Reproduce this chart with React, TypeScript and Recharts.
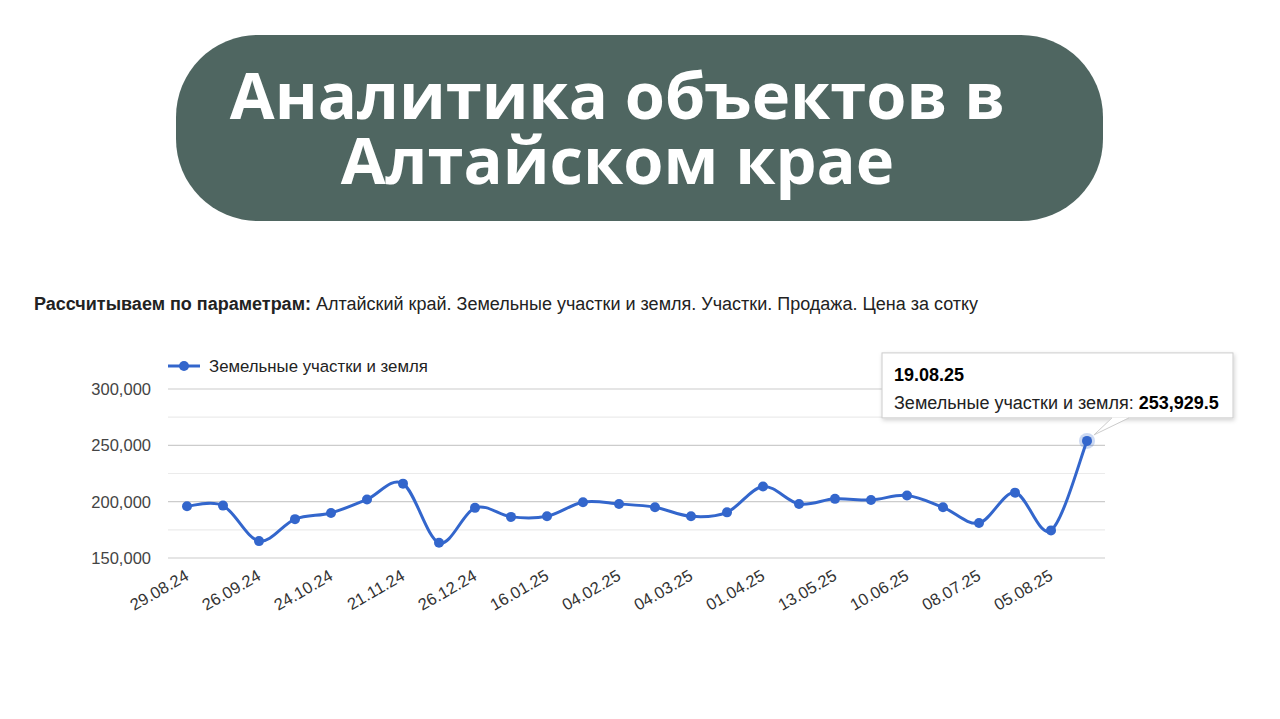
import React from "react";
import { LineChart, Line, XAxis, YAxis, CartesianGrid, ReferenceLine } from "recharts";

const dates = [
  "29.08.24", "12.09.24", "26.09.24", "10.10.24", "24.10.24", "07.11.24",
  "21.11.24", "05.12.24", "26.12.24", "09.01.25", "16.01.25", "23.01.25",
  "04.02.25", "18.02.25", "04.03.25", "18.03.25", "01.04.25", "15.04.25",
  "13.05.25", "27.05.25", "10.06.25", "24.06.25", "08.07.25", "22.07.25",
  "05.08.25", "19.08.25",
];

const prices = [
  196000, 196500, 165000, 184500, 190000, 202000, 216000, 163500, 194500,
  186500, 187000, 199500, 198000, 195000, 187000, 190500, 213500, 198000,
  202500, 201500, 205500, 195000, 181000, 208000, 174500, 253929.5,
];

const yTicks = [150000, 200000, 250000, 300000];
const minorTicks = [175000, 225000, 275000];

const seriesName = "Земельные участки и земля";

const data = dates.map((d, i) => ({ date: d, price: prices[i] }));

const BLUE = "#3366cc";
const FONT = "'Liberation Sans', Arial, sans-serif";

// cardinal-ish spline, close to google charts "function" curve
const smoothCurve = (context: any) => {
  let pts: number[][] = [];
  return {
    areaStart() {},
    areaEnd() {},
    lineStart() {
      pts = [];
    },
    point(x: number, y: number) {
      pts.push([x, y]);
    },
    lineEnd() {
      if (!pts.length) return;
      context.moveTo(pts[0][0], pts[0][1]);
      const k = 1 / 6;
      for (let i = 0; i < pts.length - 1; i++) {
        const p0 = pts[Math.max(i - 1, 0)];
        const p1 = pts[i];
        const p2 = pts[i + 1];
        const p3 = pts[Math.min(i + 2, pts.length - 1)];
        context.bezierCurveTo(
          p1[0] + (p2[0] - p0[0]) * k,
          p1[1] + (p2[1] - p0[1]) * k,
          p2[0] - (p3[0] - p1[0]) * k,
          p2[1] - (p3[1] - p1[1]) * k,
          p2[0],
          p2[1]
        );
      }
    },
  };
};

const XTick = (props: any) => {
  const { x, y, payload } = props;
  return (
    <g transform={`translate(${x + 3},${y + 21})`}>
      <text
        x={0}
        y={0}
        textAnchor="end"
        transform="rotate(-30)"
        fontSize={16.5}
        fontFamily={FONT}
        fill="#333"
      >
        {payload.value}
      </text>
    </g>
  );
};

const Dot = (props: any) => {
  const { cx, cy, index } = props;
  if (index !== prices.length - 1) {
    return <circle key={index} cx={cx} cy={cy} r={5} fill={BLUE} />;
  }
  const bx = cx - 205;
  const by = cy - 88;
  return (
    <g key={index}>
      <defs>
        <filter id="tipShadow" x="-10%" y="-20%" width="120%" height="150%">
          <feDropShadow dx="1" dy="2" stdDeviation="2" floodColor="#000" floodOpacity="0.18" />
        </filter>
      </defs>
      <circle cx={cx} cy={cy} r={8} fill={BLUE} opacity={0.25} />
      <circle cx={cx} cy={cy} r={5} fill={BLUE} />
      <rect x={bx} y={by} width={351} height={65} fill="#fff" stroke="#ccc" filter="url(#tipShadow)" />
      <polygon points={`${cx + 25},${cy - 23.5} ${cx + 42},${cy - 23.5} ${cx + 7},${cy - 6}`} fill="#fff" />
      <polyline points={`${cx + 25},${cy - 23} ${cx + 7},${cy - 6} ${cx + 42},${cy - 23}`} fill="none" stroke="#ccc" />
      <text x={bx + 12} y={by + 28} fontFamily={FONT} fontSize={18} fontWeight="bold" fill="#000">
        {dates[index]}
      </text>
      <text x={bx + 12} y={by + 56} fontFamily={FONT} fontSize={18} fill="#222">
        {seriesName}:{" "}
        <tspan fontWeight="bold" fill="#000">
          {prices[index].toLocaleString("en-US", { maximumFractionDigits: 1 })}
        </tspan>
      </text>
    </g>
  );
};

export default function App() {
  return (
    <div
      style={{
        position: "absolute",
        left: 0,
        top: 0,
        width: 1280,
        height: 719,
        background: "#fff",
        overflow: "hidden",
      }}
    >
      <div
        style={{
          position: "absolute",
          left: 176,
          top: 35,
          width: 927,
          height: 186,
          borderRadius: 82,
          background: "#4f6661",
        }}
      />
      <div
        style={{
          position: "absolute",
          left: 176,
          top: 62,
          width: 883,
          textAlign: "center",
          color: "#fff",
          fontFamily: "'Open Sans', sans-serif",
          fontWeight: 700,
          fontSize: 65,
          lineHeight: "65px",
        }}
      >
        Аналитика объектов в
        <br />
        Алтайском крае
      </div>

      <div
        style={{
          position: "absolute",
          left: 34,
          top: 294,
          fontFamily: FONT,
          fontSize: 18,
          lineHeight: "20px",
          color: "#222",
          whiteSpace: "nowrap",
        }}
      >
        <b>Рассчитываем по параметрам:</b> Алтайский край. Земельные участки и земля. Участки. Продажа. Цена за сотку
      </div>

      <svg style={{ position: "absolute", left: 0, top: 0 }} width={460} height={380}>
        <line x1={168} y1={366} x2={200} y2={366} stroke={BLUE} strokeWidth={3} />
        <circle cx={184} cy={366} r={5} fill={BLUE} />
        <text x={209} y={372} fontFamily={FONT} fontSize={16.8} fill="#222">
          {seriesName}
        </text>
      </svg>

      <div style={{ position: "absolute", left: 0, top: 0 }}>
        <LineChart
          width={1280}
          height={719}
          data={data}
          margin={{ top: 389, right: 175, bottom: 0, left: 0 }}
        >
          <CartesianGrid vertical={false} stroke="#ccc" strokeWidth={1.2} />
          {minorTicks.map((t) => (
            <ReferenceLine key={t} y={t} stroke="#ebebeb" strokeWidth={1.2} />
          ))}
          <XAxis
            dataKey="date"
            interval={1}
            height={161}
            tickLine={false}
            axisLine={false}
            tickSize={0}
            tickMargin={0}
            padding={{ left: 19, right: 18 }}
            tick={<XTick />}
          />
          <YAxis
            width={168}
            domain={[150000, 300000]}
            ticks={yTicks}
            tickLine={false}
            axisLine={false}
            tickSize={0}
            tickMargin={17}
            tickFormatter={(v: number) => v.toLocaleString("en-US")}
            tick={{ fontSize: 16.5, fontFamily: FONT, fill: "#444" }}
          />
          <Line
            dataKey="price"
            type={smoothCurve as any}
            stroke={BLUE}
            strokeWidth={3}
            dot={Dot}
            activeDot={false}
            isAnimationActive={false}
          />
        </LineChart>
      </div>
    </div>
  );
}
